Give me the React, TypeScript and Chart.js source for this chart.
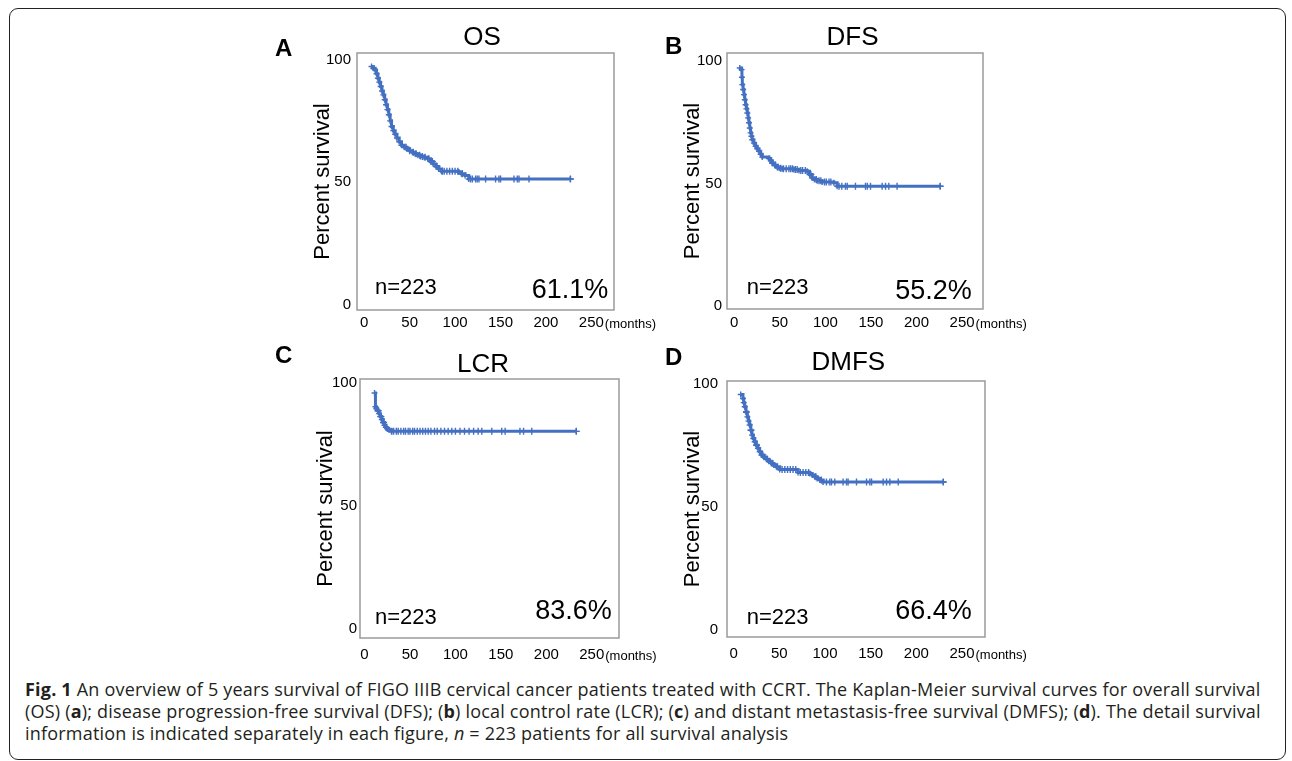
import React, { useEffect, useRef } from "react";
import { Chart, registerables } from "chart.js";

Chart.register(...registerables);

// ---------- data ----------
const X_TICKS = [0, 50, 100, 150, 200, 250];
const Y_TICKS = [0, 50, 100];
const N_LABEL = "n=223";

// A: overall survival
const osMonths = [8, 10, 12, 13.5, 15, 16.5, 18, 19.5, 21, 22.5, 24, 25.5, 27, 28.5, 30, 32, 34, 36, 38.5, 41, 44, 47, 50, 53, 56, 59, 62, 66, 70, 73, 76, 79, 82, 85, 104, 107, 111, 115, 227];
const osSurvival = [97.2, 96.5, 95.8, 94.2, 92.4, 90.8, 89, 87.2, 85.6, 83.6, 81.6, 79.6, 77.5, 75, 72.7, 71, 69.5, 68, 66.5, 65, 64.2, 63.6, 62.8, 62.2, 61.6, 61, 60.5, 60.1, 59.5, 58.4, 57.4, 56.4, 55.4, 54.4, 54.1, 53.4, 52.7, 51.3, 51.3];
const osCensored = [46, 50, 54, 57, 61, 64, 67, 71, 75, 80, 86, 88, 91, 94, 97, 100, 103, 108, 117, 119, 122.6, 124.4, 126.3, 133.6, 144.6, 148.3, 150.1, 164.9, 168.5, 170.4, 181.4, 227];
const osRate = "61.1%";

// B: disease progression-free survival
const dfsMonths = [6, 8, 8.4, 8.8, 9.7, 10.6, 11.5, 12.4, 13.3, 14.3, 15.2, 16.1, 17, 17.9, 18.8, 19.7, 21.5, 23.4, 25.2, 27.1, 29, 30.7, 38, 40, 41.7, 44.5, 47.1, 50, 52.6, 65.4, 71, 80, 82.6, 85.5, 88, 91, 96.5, 109.3, 112.9, 226];
const dfsSurvival = [97.3, 96.6, 93.5, 90.5, 88.5, 86.4, 84.3, 82.3, 80.6, 78.9, 76.9, 74.9, 72.8, 70.8, 69.4, 68.0, 66.6, 65.3, 64.3, 63.3, 62.1, 60.9, 60.3, 59.4, 58.5, 57.6, 56.8, 56.4, 56.1, 55.8, 55.4, 55.1, 53.8, 52.4, 51.8, 51.3, 50.7, 50.4, 49.0, 49.0];
const dfsCensored = [42, 45, 48, 51, 54, 57, 60, 62, 64, 67, 69, 73, 75, 78, 84, 90, 93, 95, 99, 101, 104, 106, 115, 118, 122, 124, 133, 144, 146, 149.5, 162.3, 166, 169.6, 178.7, 226];
const dfsRate = "55.2%";

// C: local control rate
const lcrMonths = [11, 12, 13, 14.5, 16, 17.5, 19, 20.5, 22, 23.5, 25, 27, 29.5, 233];
const lcrSurvival = [96, 90.4, 89.6, 88.8, 87.6, 86.4, 85.2, 84, 82.9, 82, 81.4, 80.9, 80.4, 80.4];
const lcrCensored = [15, 18, 21, 24, 30, 32, 35, 37, 40, 43, 45, 48, 50, 53, 55, 58, 61, 64, 67, 70, 73, 77, 80, 84, 88, 92, 96, 100, 105, 110, 115, 120, 125, 129, 140, 151, 154.7, 171, 175, 184, 233];
const lcrRate = "83.6%";

// D: distant metastasis-free survival
const dmfsMonths = [7.7, 10.2, 11, 12.1, 13.5, 15, 16.2, 17.5, 18.8, 20.1, 21.5, 23, 24.8, 26.6, 28.5, 30.4, 33, 35.9, 38.5, 41.3, 44, 46.8, 50.4, 70.5, 83.3, 86, 88.8, 91.5, 94.3, 97.9, 229.5];
const dmfsSurvival = [95.6, 94, 92.3, 90.6, 88.5, 86.5, 84.8, 83.2, 81.1, 79.1, 77.7, 76.4, 75, 73.7, 72.3, 71, 70.1, 69.3, 68.5, 67.6, 66.9, 66.2, 65.1, 63.9, 63.5, 62.9, 62.2, 61.5, 60.8, 60.0, 60.0];
const dmfsCensored = [14, 19, 25, 32, 37, 43, 48, 53, 56, 59, 62, 65, 68, 73, 76, 79, 82, 90, 96, 101.6, 105.3, 107.1, 110.7, 119.8, 123.6, 125.3, 134.5, 145.5, 149.1, 151, 163.7, 167.4, 171, 180.2, 229.5];
const dmfsRate = "66.4%";

// ---------- styling / layout ----------
const BLUE = "#4470c2";
const BOX_COLOR = "#9a9a9a";
const FONT = '"Liberation Sans", Arial, Helvetica, sans-serif';
const M_LEFT = 95;
const M_TOP = 55;
const M_RIGHT = 85;
const M_BOTTOM = 35;
const Y_AXIS_W = 50;
const X_AXIS_H = 25;

type Pt = { x: number; y: number };
type PanelSpec = {
  letter: string;
  title: string;
  months: number[];
  surv: number[];
  censored: number[];
  rate: string;
  box: { left: number; top: number; width: number; height: number };
  xRange: [number, number];
  yRange: [number, number];
  xPad: number;
  yPad: number;
  letterPos: Pt;
  titlePos: Pt;
  nPos: Pt;
  ratePos: Pt;
};

function survivalAt(months: number[], surv: number[], t: number): number {
  let v = surv[0];
  for (let i = 0; i < months.length; i++) {
    if (months[i] <= t) v = surv[i];
    else break;
  }
  return v;
}

const PANELS: PanelSpec[] = [
  {
    letter: "A", title: "OS", months: osMonths, surv: osSurvival, censored: osCensored, rate: osRate,
    box: { left: 357, top: 53, width: 257, height: 257 },
    xRange: [-8, 275], yRange: [-2.2, 102.7], xPad: 4, yPad: 6,
    letterPos: { x: 275, y: 49 }, titlePos: { x: 482, y: 38 },
    nPos: { x: 375, y: 288.3 }, ratePos: { x: 608.3, y: 290.7 },
  },
  {
    letter: "B", title: "DFS", months: dfsMonths, surv: dfsSurvival, censored: dfsCensored, rate: dfsRate,
    box: { left: 727, top: 53, width: 256, height: 256 },
    xRange: [-8, 273], yRange: [-1.1, 103.4], xPad: 5, yPad: 5,
    letterPos: { x: 665, y: 47.5 }, titlePos: { x: 852.5, y: 38.3 },
    nPos: { x: 746.7, y: 288 }, ratePos: { x: 971.7, y: 291.7 },
  },
  {
    letter: "C", title: "LCR", months: lcrMonths, surv: lcrSurvival, censored: lcrCensored, rate: lcrRate,
    box: { left: 360, top: 379, width: 259, height: 259 },
    xRange: [-5, 280], yRange: [-3.7, 101.7], xPad: 8, yPad: 3,
    letterPos: { x: 275, y: 356 }, titlePos: { x: 483, y: 365 },
    nPos: { x: 375, y: 618.3 }, ratePos: { x: 611.7, y: 611.7 },
  },
  {
    letter: "D", title: "DMFS", months: dmfsMonths, surv: dmfsSurvival, censored: dmfsCensored, rate: dmfsRate,
    box: { left: 727, top: 381, width: 258, height: 256 },
    xRange: [-7.3, 275.2], yRange: [-3.0, 101.1], xPad: 8, yPad: 9,
    letterPos: { x: 665, y: 358 }, titlePos: { x: 848.3, y: 363.3 },
    nPos: { x: 746.7, y: 618.3 }, ratePos: { x: 971.7, y: 611.7 },
  },
];

function KMPanel({ spec }: { spec: PanelSpec }) {
  const ref = useRef<HTMLCanvasElement>(null);
  const cLeft = spec.box.left - M_LEFT;
  const cTop = spec.box.top - M_TOP;
  const W = spec.box.width + M_LEFT + M_RIGHT;
  const H = spec.box.height + M_TOP + M_BOTTOM;

  useEffect(() => {
    const canvas = ref.current;
    if (!canvas) return;

    const panelPlugin = {
      id: "panelDecor",
      beforeDatasetsDraw(chart: any) {
        const { ctx, chartArea: a } = chart;
        ctx.save();
        ctx.strokeStyle = BOX_COLOR;
        ctx.lineWidth = 1.5;
        ctx.strokeRect(a.left, a.top, a.right - a.left, a.bottom - a.top);
        ctx.restore();
      },
      afterDraw(chart: any) {
        const ctx = chart.ctx as CanvasRenderingContext2D;
        ctx.save();
        ctx.fillStyle = "#000";
        ctx.textBaseline = "middle";

        ctx.font = `bold 24px ${FONT}`;
        ctx.textAlign = "left";
        ctx.fillText(spec.letter, spec.letterPos.x - cLeft, spec.letterPos.y - cTop);

        ctx.font = `26px ${FONT}`;
        ctx.textAlign = "center";
        ctx.fillText(spec.title, spec.titlePos.x - cLeft, spec.titlePos.y - cTop);

        ctx.font = `22px ${FONT}`;
        ctx.textAlign = "left";
        ctx.fillText(N_LABEL, spec.nPos.x - cLeft, spec.nPos.y - cTop);

        ctx.font = `27px ${FONT}`;
        ctx.textAlign = "right";
        ctx.fillText(spec.rate, spec.ratePos.x - cLeft, spec.ratePos.y - cTop);

        const xs = chart.scales.x;
        ctx.font = `15px ${FONT}`;
        const w = ctx.measureText("250").width;
        ctx.font = `13px ${FONT}`;
        ctx.textAlign = "left";
        ctx.fillText("(months)", xs.getPixelForValue(250) + w / 2 + 1, xs.top + spec.xPad + 10);
        ctx.restore();
      },
    };

    const curve = spec.months.map((m, i) => ({ x: m, y: spec.surv[i] }));
    const marks = spec.censored.map((t) => ({ x: t, y: survivalAt(spec.months, spec.surv, t) }));

    const chart = new Chart(canvas, {
      type: "line",
      data: {
        datasets: [
          {
            type: "line",
            data: curve,
            stepped: "before",
            borderColor: BLUE,
            backgroundColor: BLUE,
            borderWidth: 3,
            pointStyle: "cross",
            pointRadius: 3,
            pointBorderWidth: 1.4,
            pointBorderColor: BLUE,
            fill: false,
          } as any,
          {
            type: "scatter",
            data: marks,
            showLine: false,
            pointStyle: "cross",
            pointRadius: 3.5,
            pointBorderWidth: 1.4,
            borderColor: BLUE,
            backgroundColor: BLUE,
          } as any,
        ],
      },
      options: {
        responsive: false,
        animation: false,
        events: [],
        layout: {
          padding: { left: M_LEFT - Y_AXIS_W, top: M_TOP, right: M_RIGHT, bottom: M_BOTTOM - X_AXIS_H },
        },
        plugins: { legend: { display: false }, tooltip: { enabled: false }, title: { display: false } },
        scales: {
          x: {
            type: "linear",
            min: spec.xRange[0],
            max: spec.xRange[1],
            grid: { display: false, drawTicks: false },
            border: { display: false },
            ticks: { padding: spec.xPad, color: "#000", font: { size: 15, family: FONT }, autoSkip: false, maxRotation: 0 },
            afterBuildTicks: (axis: any) => {
              axis.ticks = X_TICKS.map((v) => ({ value: v }));
            },
            afterFit: (axis: any) => {
              axis.height = X_AXIS_H;
            },
          },
          y: {
            type: "linear",
            min: spec.yRange[0],
            max: spec.yRange[1],
            grid: { display: false, drawTicks: false },
            border: { display: false },
            ticks: { padding: spec.yPad, color: "#000", font: { size: 15, family: FONT } },
            title: {
              display: true,
              text: "Percent survival",
              color: "#000",
              font: { size: 22, family: FONT },
              padding: { top: 3, bottom: 0 },
            },
            afterBuildTicks: (axis: any) => {
              axis.ticks = Y_TICKS.map((v) => ({ value: v }));
            },
            afterFit: (axis: any) => {
              axis.width = Y_AXIS_W;
            },
          },
        },
      } as any,
      plugins: [panelPlugin],
    });
    return () => chart.destroy();
  }, [spec]);

  return (
    <canvas
      ref={ref}
      width={W}
      height={H}
      style={{ position: "absolute", left: cLeft, top: cTop, width: W, height: H }}
    />
  );
}

export default function App() {
  return (
    <div style={{ position: "absolute", left: 0, top: 0, width: 1292, height: 761, overflow: "hidden", background: "#fff" }}>
      <div
        style={{
          position: "absolute",
          left: 8.5,
          top: 7.5,
          width: 1277,
          height: 752,
          boxSizing: "border-box",
          border: "1.5px solid #222",
          borderRadius: 9,
        }}
      />
      {PANELS.map((p) => (
        <KMPanel key={p.letter} spec={p} />
      ))}
      <div
        style={{
          position: "absolute",
          left: 25,
          top: 678,
          whiteSpace: "nowrap",
          fontFamily: '"Open Sans", "Noto Sans", sans-serif',
          fontSize: 18,
          letterSpacing: "0.2px",
          lineHeight: "22px",
          color: "#231f20",
        }}
      >
        <b>Fig. 1</b> An overview of 5 years survival of FIGO IIIB cervical cancer patients treated with CCRT. The Kaplan-Meier survival curves for overall survival
        <br />
        (OS) (<b>a</b>); disease progression-free survival (DFS); (<b>b</b>) local control rate (LCR); (<b>c</b>) and distant metastasis-free survival (DMFS); (<b>d</b>). The detail survival
        <br />
        information is indicated separately in each figure, <i>n</i> = 223 patients for all survival analysis
      </div>
    </div>
  );
}
